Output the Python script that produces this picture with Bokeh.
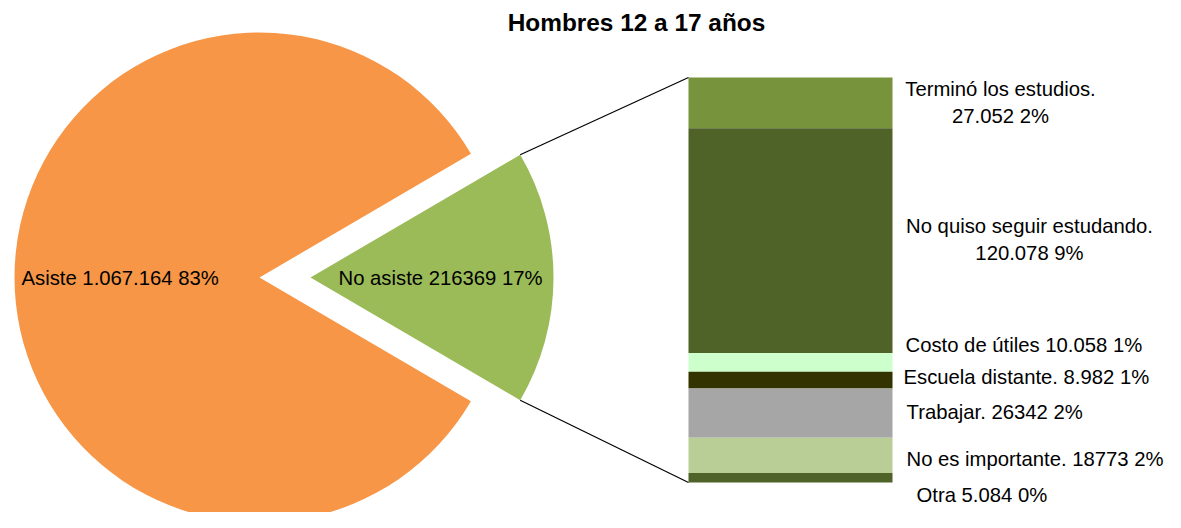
import math
from bokeh.plotting import figure
from bokeh.models import Range1d, ColumnDataSource
from bokeh.core.properties import value
from bokeh.embed import file_html
from bokeh.resources import INLINE

# ---- data ----
title = "Hombres 12 a 17 años"
pie_labels = ["Asiste 1.067.164 83%", "No asiste 216369 17%"]
pie_values = [1067164, 216369]
bar_categories = ["Terminó los estudios.", "No quiso seguir estudando.", "Costo de útiles",
                  "Escuela distante.", "Trabajar.", "No es importante.", "Otra"]
bar_values = [27052, 120078, 10058, 8982, 26342, 18773, 5084]
bar_labels = ["Terminó los estudios.\n27.052 2%", "No quiso seguir estudando.\n120.078 9%",
              "Costo de útiles 10.058 1%", "Escuela distante. 8.982 1%", "Trabajar. 26342 2%",
              "No es importante. 18773 2%", "Otra 5.084 0%"]

# ---- styles / layout ----
pie_colors = ["#F79646", "#9BBB59"]
bar_colors = ["#77933C", "#4F6228", "#CCFFCC", "#333300", "#A6A6A6", "#B9CD96", "#4F6228"]
FONT = value("Liberation Sans")
FS = "20.3px"
W, H = 1165, 512

p = figure(width=W, height=H, x_range=Range1d(0, W), y_range=Range1d(0, H),
           output_backend="svg", toolbar_location=None, min_border=0)
p.axis.visible = False
p.grid.visible = False
p.outline_line_color = None
p.background_fill_color = "white"

total = sum(pie_values)
share = pie_values[1] / total
half = share * math.pi
R = 245
cy = 235
cx_main, cx_expl = 259, 310

# pie
p.wedge(x=[cx_main], y=[cy], radius=R, start_angle=[half], end_angle=[2 * math.pi - half],
        fill_color=pie_colors[0], line_color=None)
p.wedge(x=[cx_expl], y=[cy], radius=R - 2, start_angle=[-half], end_angle=[half],
        fill_color=pie_colors[1], line_color=None)

# bar (stacked in its own range)
bar_total = sum(bar_values)
bar_left, bar_right, bar_bottom_px, bar_height_px = 688, 892, 30, 405
k = bar_total / bar_height_px
p.extra_y_ranges = {"bar": Range1d(-bar_bottom_px * k, (H - bar_bottom_px) * k)}
tops, bottoms = [], []
acc = bar_total
for v in bar_values:
    tops.append(acc)
    bottoms.append(acc - v)
    acc -= v
src = ColumnDataSource(dict(top=tops, bottom=bottoms, color=bar_colors))
p.quad(left=bar_left, right=bar_right, top="top", bottom="bottom", fill_color="color",
       line_color=None, source=src, y_range_name="bar")

# connectors
x_c = cx_expl + (R - 2) * math.cos(half)
y_up = cy + (R - 2) * math.sin(half)
y_dn = cy - (R - 2) * math.sin(half)
p.segment(x0=[x_c, x_c], y0=[y_up, y_dn], x1=[bar_left, bar_left],
          y1=[bar_bottom_px + bar_height_px, bar_bottom_px], line_color="black", line_width=1.2)

# texts
p.text(x=[636], y=[490], text=[title], text_font=FONT, text_font_size="24.4px",
       text_font_style="bold", text_align="center", text_baseline="middle")
p.text(x=[21, 338], y=[cy, cy], text=pie_labels, text_font=FONT, text_font_size=FS,
       text_align="left", text_baseline="middle")

lab_x = [1000, 1029, 905, 903, 906, 906, 916]
lab_y = [410, 273, 168, 136, 101, 54, 18]
lab_align = ["center", "center", "left", "left", "left", "left", "left"]
p.text(x=lab_x, y=lab_y, text=bar_labels, text_font=FONT, text_font_size=FS,
       text_align=lab_align, text_baseline="middle", text_line_height=1.23)

open("out.html", "w").write(file_html(p, INLINE))
